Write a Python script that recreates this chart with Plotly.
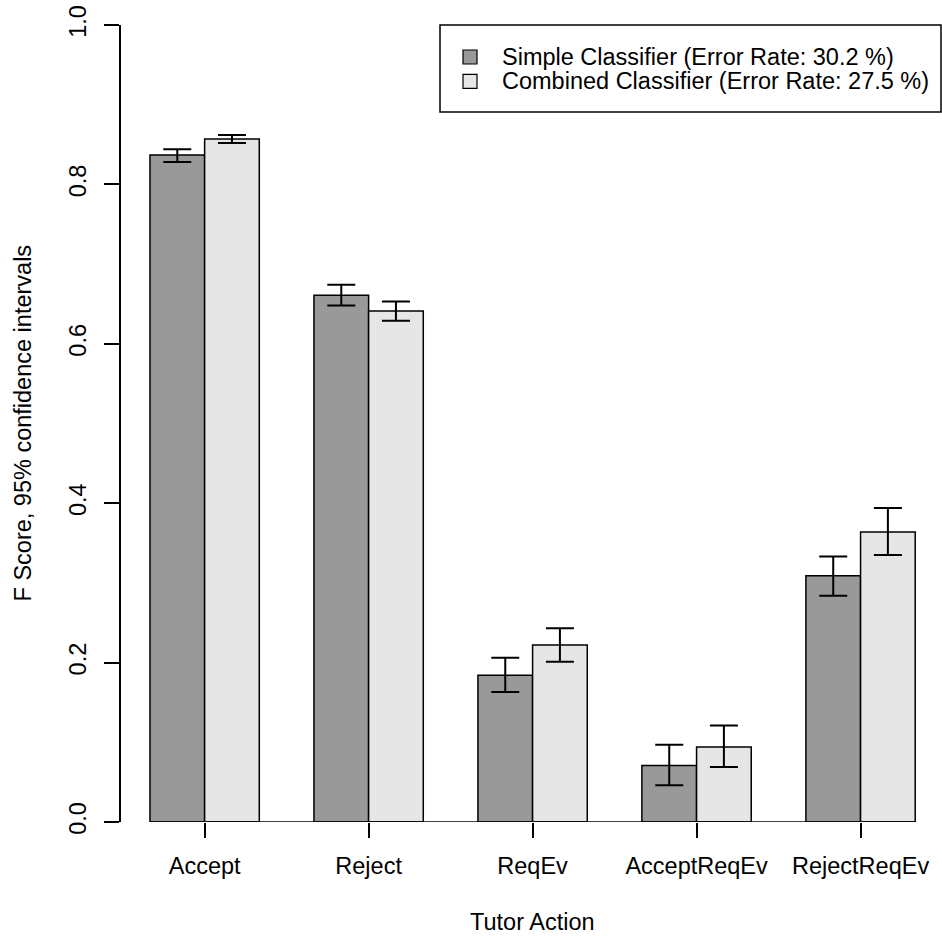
import plotly.graph_objects as go

# ---- data ----
categories = ["Accept", "Reject", "ReqEv", "AcceptReqEv", "RejectReqEv"]
simple_vals = [0.837, 0.661, 0.184, 0.071, 0.309]
simple_upper = [0.844, 0.674, 0.206, 0.097, 0.333]
simple_lower = [0.828, 0.648, 0.163, 0.046, 0.284]
combined_vals = [0.857, 0.641, 0.222, 0.094, 0.364]
combined_upper = [0.862, 0.653, 0.243, 0.121, 0.394]
combined_lower = [0.852, 0.629, 0.201, 0.069, 0.335]
series_names = ["Simple Classifier (Error Rate: 30.2 %)",
                "Combined Classifier (Error Rate: 27.5 %)"]
y_ticks = [0.0, 0.2, 0.4, 0.6, 0.8, 1.0]

# ---- layout constants ----
W, H = 942, 936
ML, MR, MT, MB = 121, 0, 25, 114
PW, PH = W - ML - MR, H - MT - MB
FONT = "Liberation Sans, Arial, Helvetica, sans-serif"
FS = 23.5
DARK = "#999999"
LIGHT = "#e6e6e6"


def px_x(p):
    return (p - ML) / PW


def px_y(p):
    return 1 - (p - MT) / PH


# group centres (boundary between the two bars), bar width 1, gap 1
centers = [3 * i + 2 for i in range(len(categories))]
x_simple = [c - 0.5 for c in centers]
x_comb = [c + 0.5 for c in centers]

fig = go.Figure()
for xs, vals, up, lo, col, name in [
    (x_simple, simple_vals, simple_upper, simple_lower, DARK, series_names[0]),
    (x_comb, combined_vals, combined_upper, combined_lower, LIGHT, series_names[1]),
]:
    fig.add_trace(go.Bar(
        x=xs, y=vals, width=1, name=name,
        marker=dict(color=col, line=dict(color="black", width=1.5)),
        error_y=dict(type="data", symmetric=False,
                     array=[u - v for u, v in zip(up, vals)],
                     arrayminus=[v - l for v, l in zip(vals, lo)],
                     color="black", thickness=2, width=14),
        showlegend=False,
    ))

# baseline under the bars
fig.add_shape(type="line", xref="x", yref="y",
              x0=min(x_simple) - 0.5, x1=max(x_comb) + 0.5, y0=0, y1=0,
              line=dict(color="black", width=1.5), layer="above")

# ---- manual legend (R-style box) ----
fig.add_shape(type="rect", xref="paper", yref="paper",
              x0=px_x(440), x1=px_x(941), y0=px_y(112), y1=px_y(25),
              line=dict(color="black", width=1.5), fillcolor="white", layer="above")
for i, (name, col) in enumerate(zip(series_names, [DARK, LIGHT])):
    cy = 57 + i * 24.3
    fig.add_shape(type="rect", xref="paper", yref="paper",
                  x0=px_x(463), x1=px_x(477), y0=px_y(cy + 7), y1=px_y(cy - 7),
                  line=dict(color="black", width=1.2), fillcolor=col, layer="above")
    fig.add_annotation(xref="paper", yref="paper", x=px_x(500), y=px_y(cy),
                       text=name, showarrow=False, xanchor="left", yanchor="middle",
                       font=dict(family=FONT, size=FS, color="black"))

# axis titles
fig.add_annotation(xref="paper", yref="paper", x=px_x(532), y=px_y(922),
                   text="Tutor Action", showarrow=False, xanchor="center",
                   yanchor="middle", font=dict(family=FONT, size=FS, color="black"))
fig.add_annotation(xref="paper", yref="paper", x=px_x(22), y=px_y(423.5),
                   text="F Score, 95% confidence intervals", showarrow=False,
                   textangle=-90, xanchor="center", yanchor="middle",
                   font=dict(family=FONT, size=FS, color="black"))

fig.update_layout(
    width=W, height=H,
    margin=dict(l=ML, r=MR, t=MT, b=MB, pad=0),
    paper_bgcolor="white", plot_bgcolor="white",
    barmode="overlay",
    font=dict(family=FONT, size=FS, color="black"),
    xaxis=dict(range=[0.47, 15.49], tickmode="array", tickvals=centers,
               ticktext=categories, ticks="outside", ticklen=15, tickwidth=1.5,
               tickcolor="black", showline=False, showgrid=False, zeroline=False,
               ticklabelstandoff=8),
    yaxis=dict(range=[0, 1], tickmode="array", tickvals=y_ticks,
               ticktext=[f"{v:.1f}" for v in y_ticks], ticks="outside",
               ticklen=15, tickwidth=1.5, tickcolor="black", showline=True,
               linecolor="black", linewidth=1.5, showgrid=False, zeroline=False,
               tickangle=-90, ticklabelstandoff=9),
)

fig.write_html("out.html")
